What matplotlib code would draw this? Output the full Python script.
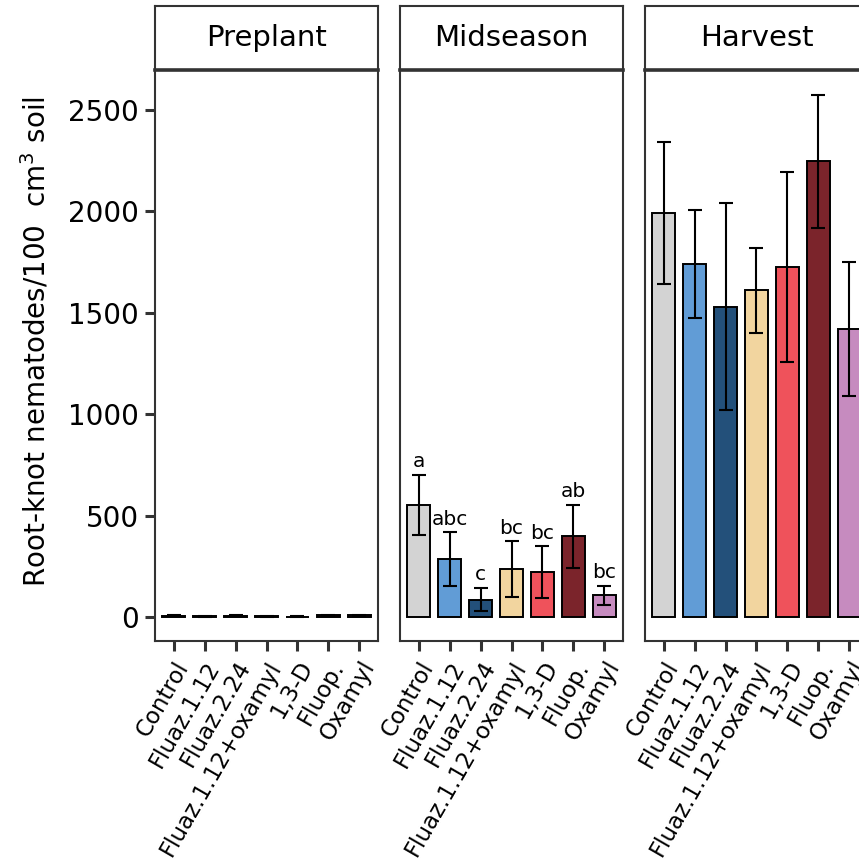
import matplotlib
matplotlib.use("Agg")
import matplotlib.pyplot as plt
import numpy as np

plt.rcParams['font.family'] = ['DejaVu Sans']

# data
treatments = ["Control", "Fluaz.1.12", "Fluaz.2.24", "Fluaz.1.12+oxamyl", "1,3-D", "Fluop.", "Oxamyl"]
colors = ["#D3D3D3", "#619CD6", "#23507A", "#F2D59F", "#EF525B", "#7B242B", "#C68BBF"]
seasons = ["Preplant", "Midseason", "Harvest"]

preplant_mean = [6, 3, 7, 4, 2, 8, 8]
preplant_se = [3, 2, 3, 2, 2, 3, 3]
mid_mean = [554, 286, 86, 236, 222, 398, 108]
mid_se = [147, 131, 57, 137, 127, 155, 47]
mid_letters = ["a", "abc", "c", "bc", "bc", "ab", "bc"]
harv_mean = [1992, 1740, 1529, 1610, 1726, 2248, 1420]
harv_se = [350, 266, 510, 210, 468, 328, 330]

means = [preplant_mean, mid_mean, harv_mean]
ses = [preplant_se, mid_se, harv_se]
letters = [None, mid_letters, None]

W, H = 859, 861
fig = plt.figure(figsize=(W / 100, H / 100), dpi=100)

frame_col = "#333333"
lefts = [155, 400, 645]
pw = 223
p_top, p_bot = 70, 641
s_top = 6

x = np.arange(1, len(treatments) + 1)

for i, season in enumerate(seasons):
    l = lefts[i]
    ax = fig.add_axes([l / W, 1 - p_bot / H, pw / W, (p_bot - p_top) / H])
    ax.bar(x, means[i], width=0.75, color=colors, edgecolor="black", linewidth=1.4, zorder=2)
    ax.errorbar(x, means[i], yerr=ses[i], fmt="none", ecolor="black",
                elinewidth=1.5, capsize=4.7, capthick=1.5, zorder=3)
    if letters[i] is not None:
        for xi, m, s, lab in zip(x, means[i], ses[i], letters[i]):
            ax.text(xi, m + s + 18, lab, ha="center", va="bottom", fontsize=14.5)
    ax.set_xlim(0.4, 7.6)
    ax.set_ylim(-118, 2697)
    ax.set_xticks(x)
    ax.set_xticklabels(treatments, rotation=60, ha="right", va="top",
                       rotation_mode="anchor", fontsize=16.5)
    ax.set_yticks([0, 500, 1000, 1500, 2000, 2500])
    ax.tick_params(axis="both", length=7.5, width=2.2, color=frame_col,
                   labelcolor="black")
    ax.tick_params(axis="x", labelsize=16.5, pad=4)
    ax.tick_params(axis="y", labelsize=20, pad=4)
    if i == 0:
        ax.set_ylabel("Root-knot nematodes/100  cm$^3$ soil", fontsize=20)
        ax.yaxis.set_label_coords(-0.466, 0.5245)
    else:
        ax.tick_params(axis="y", left=False, labelleft=False)
    for sp in ax.spines.values():
        sp.set_color(frame_col)
        sp.set_linewidth(1.5)

    # facet strip
    sax = fig.add_axes([l / W, 1 - p_top / H, pw / W, (p_top - s_top) / H])
    sax.set_xticks([])
    sax.set_yticks([])
    sax.set_facecolor("white")
    for sp in sax.spines.values():
        sp.set_color(frame_col)
        sp.set_linewidth(1.5)
    sax.spines["bottom"].set_linewidth(2.6)
    sax.text(0.5, 0.5, season, ha="center", va="center", fontsize=21, transform=sax.transAxes)

fig.savefig("out.png", dpi=100)
